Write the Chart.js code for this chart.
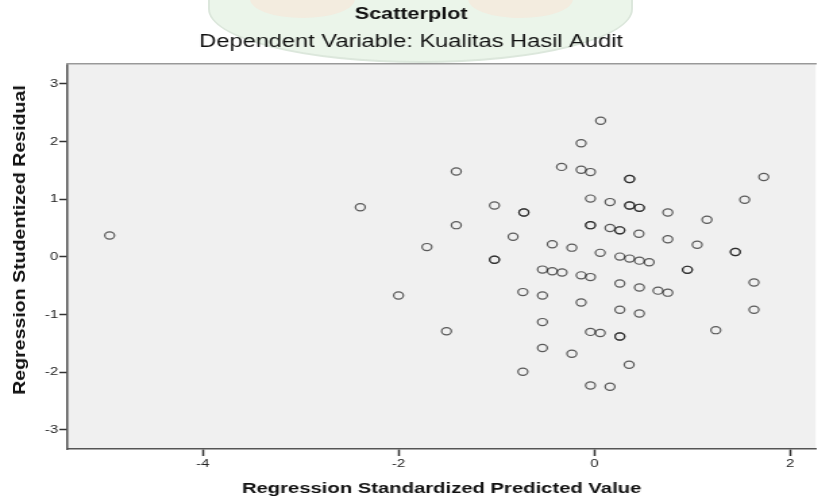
<!DOCTYPE html>
<html>
<head>
<meta charset="utf-8">
<title>Scatterplot</title>
<script src="https://cdn.jsdelivr.net/npm/chart.js@4.4.0/dist/chart.umd.min.js"></script>
<style>
  html, body { margin: 0; padding: 0; background: #fff; overflow: hidden; }
  body { position: relative; width: 822px; height: 498px; }
  /* faint logo watermark sitting behind the titles in the source */
  .mark { position: absolute; left: 208px; top: -45px; width: 425px; height: 108px;
          border-radius: 0 0 50% 50%; background: rgba(222, 238, 220, 0.6);
          border: 2px solid rgba(170, 180, 170, 0.22); box-sizing: border-box; }
  .blob { position: absolute; top: -20px; width: 105px; height: 38px; border-radius: 50%;
          background: rgba(250, 228, 214, 0.55); }
  /* the source picture is a horizontally stretched SPSS export, so stretch the canvas the same way */
  #wrap { position: absolute; left: 0; top: 0; width: 609px; height: 498px; transform: scaleX(1.35); transform-origin: 0 0; }
  #ytitle { position: absolute; left: 20px; top: 240px; white-space: nowrap; color: #111;
            font: bold 17px "Liberation Sans", Arial, sans-serif;
            transform: translate(-50%, -50%) rotate(-90deg) scaleX(1.15); }
</style>
</head>
<body>
<div class="mark"></div>
<div class="blob" style="left:250px"></div>
<div class="blob" style="left:468px"></div>
<div id="wrap"><canvas id="scatter"></canvas></div>
<div id="ytitle">Regression Studentized Residual</div>
<script>
// Regression Standardized Predicted Value (x) and Regression Studentized Residual (y)
// repeated pairs are cases that sit on the same spot (they show as darker rings)
const predicted = [
  -4.95, -2.39, -2.00, -1.71, -1.51, -1.41, -1.41, -1.02, -1.02, -1.02,
  -0.83, -0.72, -0.72, -0.73, -0.73, -0.53, -0.53, -0.53, -0.53, -0.43,
  -0.43, -0.335, -0.33, -0.23, -0.23, -0.135, -0.135, -0.135, -0.135, -0.04,
  -0.04, -0.04, -0.04, -0.04, -0.04, -0.04, 0.064, 0.06, 0.06, 0.16,
  0.16, 0.16, 0.26, 0.26, 0.26, 0.26, 0.26, 0.26, 0.26, 0.36,
  0.36, 0.36, 0.36, 0.36, 0.355, 0.46, 0.46, 0.455, 0.46, 0.46,
  0.46, 0.56, 0.65, 0.75, 0.75, 0.75, 0.95, 0.95, 1.05, 1.15,
  1.24, 1.44, 1.44, 1.535, 1.63, 1.63, 1.73
];
const residual = [
  0.37, 0.86, -0.67, 0.17, -1.29, 1.48, 0.55, 0.89, -0.05, -0.05,
  0.35, 0.77, 0.77, -0.61, -1.99, -0.22, -0.67, -1.13, -1.58, 0.22,
  -0.25, 1.56, -0.27, 0.16, -1.68, 1.97, 1.51, -0.32, -0.79, 1.47,
  1.01, 0.55, 0.55, -0.35, -1.30, -2.23, 2.36, 0.07, -1.32, 0.95,
  0.50, -2.25, 0.46, 0.46, 0.005, -0.46, -0.915, -1.38, -1.38, 1.35,
  1.35, 0.89, 0.89, -0.03, -1.87, 0.85, 0.85, 0.40, -0.065, -0.53,
  -0.98, -0.094, -0.585, 0.77, 0.305, -0.62, -0.225, -0.225, 0.21, 0.645,
  -1.27, 0.085, 0.085, 0.99, -0.445, -0.915, 1.385
];
const xTicks = [-4, -2, 0, 2];
const yTicks = [-3, -2, -1, 0, 1, 2, 3];

const FONT = '"Liberation Sans", Arial, sans-serif';

// grey plot panel like SPSS
const plotBackground = {
  id: 'plotBackground',
  beforeDraw(chart) {
    const { ctx, chartArea: a } = chart;
    ctx.save();
    ctx.fillStyle = '#f0f0f0';
    ctx.fillRect(a.left, a.top, a.right - a.left, a.bottom - a.top);
    ctx.restore();
  }
};

const ctx = document.getElementById('scatter').getContext('2d');
new Chart(ctx, {
  type: 'scatter',
  data: {
    datasets: [{
      data: predicted.map((x, i) => ({ x: x, y: residual[i] })),
      pointRadius: 3.6,
      pointHoverRadius: 3.6,
      borderWidth: 1.2,
      borderColor: 'rgba(25,25,25,0.7)',
      backgroundColor: 'rgba(0,0,0,0)'
    }]
  },
  options: {
    responsive: true,
    maintainAspectRatio: false,
    animation: false,
    layout: { padding: 0 },
    plugins: {
      legend: { display: false },
      tooltip: { enabled: false },
      title: {
        display: true,
        text: 'Scatterplot',
        color: '#111',
        font: { family: FONT, size: 16, weight: 'bold' },
        padding: { top: 5, bottom: 5 }
      },
      subtitle: {
        display: true,
        text: 'Dependent Variable: Kualitas Hasil Audit',
        color: '#111',
        font: { family: FONT, size: 17.5 },
        padding: { top: 2, bottom: 11 }
      }
    },
    scales: {
      x: {
        type: 'linear',
        position: 'bottom',
        min: -5.38,
        max: 2.26,
        afterBuildTicks: s => { s.ticks = xTicks.map(v => ({ value: v })); },
        afterFit: s => { s.height = 49; },
        grid: { drawOnChartArea: false, tickLength: 7, tickColor: '#333', tickWidth: 1.5 },
        border: { color: '#555', width: 1.5 },
        ticks: { color: '#222', font: { family: FONT, size: 11 }, padding: 1, maxRotation: 0 },
        title: {
          display: true,
          text: 'Regression Standardized Predicted Value',
          color: '#111',
          font: { family: FONT, size: 15, weight: 'bold' },
          padding: 0
        }
      },
      y: {
        type: 'linear',
        min: -3.33,
        max: 3.34,
        afterBuildTicks: s => { s.ticks = yTicks.map(v => ({ value: v })); },
        afterFit: s => { s.width = 50; },
        grid: { drawOnChartArea: false, tickLength: 6, tickColor: '#333', tickWidth: 1.5 },
        border: { color: '#555', width: 1.5 },
        ticks: { color: '#222', font: { family: FONT, size: 11 }, padding: 1 },
        // axis title is the #ytitle element, drawn unstretched
        title: { display: false }
      },
      top: {
        type: 'linear',
        axis: 'x',
        position: 'top',
        ticks: { display: false },
        grid: { drawOnChartArea: false, drawTicks: false },
        border: { color: '#999', width: 1.5 },
        afterFit: s => { s.height = 1; }
      }
    }
  },
  plugins: [plotBackground]
});
</script>
</body>
</html>
